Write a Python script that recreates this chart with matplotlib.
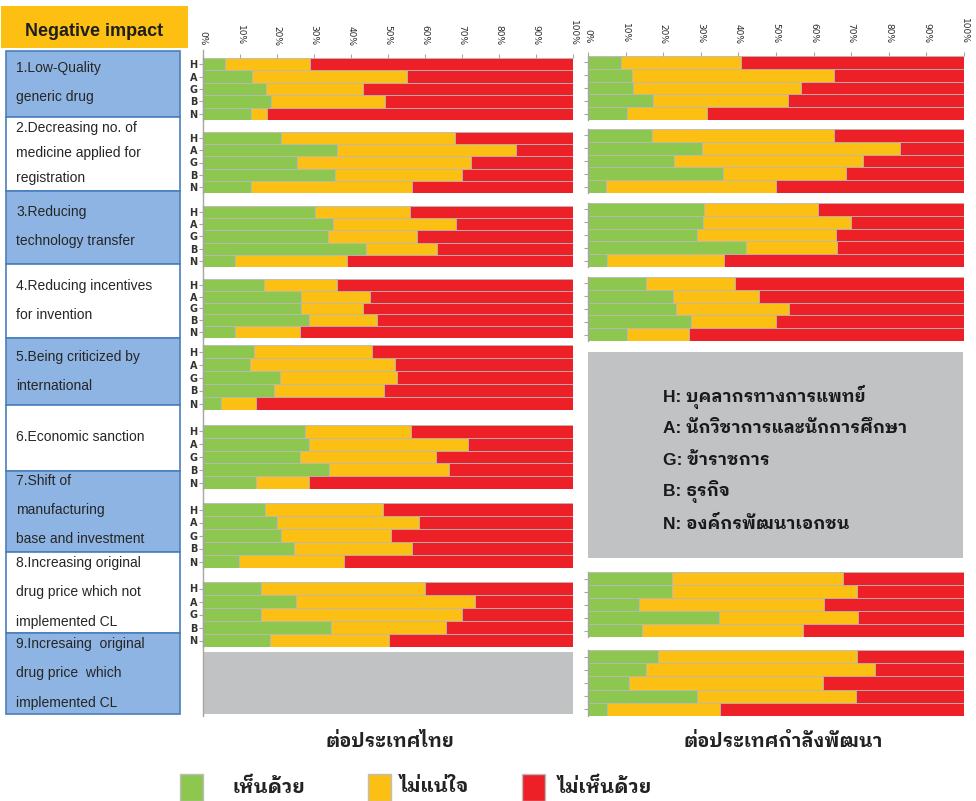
import numpy as np
import matplotlib
matplotlib.use("Agg")
import matplotlib.pyplot as plt
from matplotlib.patches import Rectangle
from matplotlib.lines import Line2D

# ---------------------------------------------------------------- data
groups = ["H", "A", "G", "B", "N"]

impacts = [
    ["1.Low-Quality", "generic drug"],
    ["2.Decreasing no. of", "medicine applied for", "registration"],
    ["3.Reducing", "technology transfer"],
    ["4.Reducing incentives", "for invention"],
    ["5.Being criticized by", "international"],
    ["6.Economic sanction"],
    ["7.Shift of", "manufacturing", "base and investment"],
    ["8.Increasing original", "drug price which not", "implemented CL"],
    ["9.Incresaing  original", "drug price  which", "implemented CL"],
]

# share (%) answering "agree" / "not sure" per group H, A, G, B, N
# impact on Thailand (impacts 1-8)
agree_th = [
    [6.0, 13.2, 17.0, 18.4, 13.1],
    [21.2, 36.2, 25.4, 35.8, 13.1],
    [30.4, 35.0, 33.8, 44.1, 8.7],
    [16.5, 26.6, 26.6, 28.6, 8.7],
    [13.8, 12.6, 20.8, 19.3, 4.8],
    [27.5, 28.6, 26.1, 34.0, 14.4],
    [16.8, 20.1, 21.2, 24.7, 9.7],
    [15.6, 25.1, 15.8, 34.5, 18.2],
]
unsure_th = [
    [22.8, 41.8, 26.3, 30.8, 4.2],
    [47.0, 48.4, 47.0, 34.2, 43.4],
    [25.6, 33.4, 24.0, 19.2, 30.3],
    [19.7, 18.4, 16.7, 18.4, 17.4],
    [31.8, 39.2, 31.6, 29.5, 9.5],
    [28.6, 43.0, 36.9, 32.4, 14.2],
    [31.8, 38.2, 29.5, 31.9, 28.5],
    [44.5, 48.5, 54.3, 31.2, 32.0],
]

# impact on developing countries (impacts 1-4, 8, 9)
dev_impacts = [1, 2, 3, 4, 8, 9]
agree_dev = [
    [8.7, 11.6, 12.1, 17.2, 10.5],
    [17.1, 30.2, 23.0, 36.0, 4.9],
    [30.9, 30.5, 29.0, 42.1, 5.1],
    [15.3, 22.7, 23.5, 27.3, 10.5],
    [22.3, 22.3, 13.6, 34.9, 14.3],
    [18.5, 15.3, 11.0, 28.9, 5.0],
]
unsure_dev = [
    [32.1, 53.8, 44.6, 36.0, 21.1],
    [48.3, 52.8, 50.1, 32.7, 45.2],
    [30.3, 39.4, 36.9, 24.2, 31.0],
    [23.8, 22.8, 30.0, 22.7, 16.3],
    [45.6, 49.2, 49.2, 37.0, 43.0],
    [53.0, 60.9, 51.6, 42.5, 30.0],
]

group_names = [
    "H: บุคลากรทางการแพทย์",
    "A: นักวิชาการและนักการศึกษา",
    "G: ข้าราชการ",
    "B: ธุรกิจ",
    "N: องค์กรพัฒนาเอกชน",
]
answers = ["เห็นด้วย", "ไม่แน่ใจ", "ไม่เห็นด้วย"]
panel_titles = ["ต่อประเทศไทย", "ต่อประเทศกำลังพัฒนา"]
pct_ticks = list(range(0, 101, 10))

# ---------------------------------------------------------------- style
GREEN, YELLOW, RED = "#8DC750", "#FCC015", "#EC2026"
BAR_EDGE = "#B8B8B8"
AXIS_GREY = "#A6A6A6"
BOX_BLUE, BOX_EDGE = "#8EB4E3", "#4A7EBB"
HEADER = "#FDBF12"
PANEL_GREY = "#C1C2C4"
THAI = ["IBM Plex Sans Thai Looped", "Noto Sans Thai Looped", "DejaVu Sans"]
LATIN_THAI = ["Liberation Sans", "IBM Plex Sans Thai Looped",
              "Noto Sans Thai Looped", "DejaVu Sans"]

W, H = 976, 801
fig = plt.figure(figsize=(W / 100, H / 100), dpi=100)


def frac(x0, y0, x1, y1):
    """Pixel box (top-left origin) -> figure fraction rect."""
    return [x0 / W, 1 - y1 / H, (x1 - x0) / W, (y1 - y0) / H]


def fx(x):
    return x / W


def fy(y):
    return 1 - y / H


def stacked(ax, agree, unsure, show_labels, top_ticks):
    agree = np.asarray(agree)
    unsure = np.asarray(unsure)
    disagree = 100 - agree - unsure
    y = np.arange(len(groups))
    kw = dict(height=1.0, edgecolor=BAR_EDGE, linewidth=0.6)
    ax.barh(y, agree, color=GREEN, **kw)
    ax.barh(y, unsure, left=agree, color=YELLOW, **kw)
    ax.barh(y, disagree, left=agree + unsure, color=RED, **kw)
    ax.set_xlim(0, 100)
    ax.set_ylim(len(groups) - 0.5, -0.5)
    for s in ("top", "right", "bottom"):
        ax.spines[s].set_visible(False)
    ax.spines["left"].set_color(AXIS_GREY)
    ax.spines["left"].set_linewidth(1.0)
    ax.set_yticks(y)
    if show_labels:
        ax.set_yticklabels(groups, fontsize=7, fontweight="bold",
                           color="#333333", family="DejaVu Sans")
    else:
        ax.set_yticklabels([])
    ax.tick_params(axis="y", length=3, width=0.8, color=AXIS_GREY, pad=1)
    if top_ticks:
        ax.xaxis.tick_top()
        ax.set_xticks(pct_ticks)
        ax.set_xticklabels([f"{v}%" for v in pct_ticks], rotation=-90,
                           fontsize=6.5, color="#2E2E2E",
                           family="DejaVu Sans", va="bottom", ha="center")
        ax.tick_params(axis="x", length=3, width=0.8, color=AXIS_GREY, pad=6)
    else:
        ax.set_xticks([])


# ---------------------------------------------------------------- left column of impact labels
fig.add_artist(Rectangle((fx(1), fy(48)), fx(187), 42 / H,
                         transform=fig.transFigure, facecolor=HEADER,
                         edgecolor="none"))
fig.text(fx(94), fy(32), "Negative impact", ha="center", va="center",
         fontsize=13, fontweight="bold", color="#1E1E1E",
         family="Liberation Sans")

row_edges = [51, 117, 191, 264, 338, 405, 471, 552, 633, 714]
line_y = [
    [68, 97], [128, 153, 178], [212, 241], [286, 315], [357, 386],
    [437], [481, 510, 539], [563, 592, 622], [644, 673, 703],
]
for i, lines in enumerate(impacts):
    top, bot = row_edges[i], row_edges[i + 1]
    fig.add_artist(Rectangle((fx(6), fy(bot)), fx(174), (bot - top) / H,
                             transform=fig.transFigure,
                             facecolor=BOX_BLUE if i % 2 == 0 else "white",
                             edgecolor=BOX_EDGE, linewidth=1.2))
    for txt, yy in zip(lines, line_y[i]):
        fig.text(fx(16), fy(yy), txt, ha="left", va="center", fontsize=10,
                 color="#262626", family="Liberation Sans")

# ---------------------------------------------------------------- impact on Thailand
th_rows = [(58, 120), (132, 193), (206, 267), (279, 338),
           (345, 410), (425, 489), (503, 568), (582, 647)]
for k, (y0, y1) in enumerate(th_rows):
    ax = fig.add_axes(frac(203, y0, 573, y1))
    stacked(ax, agree_th[k], unsure_th[k], True, k == 0)
fig.add_artist(Line2D([fx(203), fx(203)], [fy(50), fy(716)],
                      transform=fig.transFigure, color=AXIS_GREY, lw=1.0))
# impact 9 was not asked for Thailand
fig.add_artist(Rectangle((fx(204), fy(714)), fx(369), 62 / H,
                         transform=fig.transFigure, facecolor=PANEL_GREY,
                         edgecolor="none"))

# ---------------------------------------------------------------- impact on developing countries
dev_rows = {1: (56, 120), 2: (129, 193), 3: (203, 267), 4: (277, 341),
            8: (572, 637), 9: (650, 716)}
for k, imp in enumerate(dev_impacts):
    y0, y1 = dev_rows[imp]
    ax = fig.add_axes(frac(588, y0, 964, y1))
    stacked(ax, agree_dev[k], unsure_dev[k], False, k == 0)

# group key
fig.add_artist(Rectangle((fx(588), fy(558)), fx(375), 206 / H,
                         transform=fig.transFigure, facecolor=PANEL_GREY,
                         edgecolor="none"))
for name, yy in zip(group_names, [397, 428, 460, 492, 523]):
    fig.text(fx(663), fy(yy), name, ha="left", va="center", fontsize=12.5,
             fontweight="bold", color="#1A1A1A", family=LATIN_THAI)

# ---------------------------------------------------------------- panel titles
fig.text(fx(390), fy(742), panel_titles[0], ha="center", va="center",
         fontsize=13.5, fontweight="bold", color="#222222", family=THAI)
fig.text(fx(783), fy(742), panel_titles[1], ha="center", va="center",
         fontsize=13.5, fontweight="bold", color="#222222", family=THAI)

# ---------------------------------------------------------------- answer legend
for colour, label, sx, tx in zip([GREEN, YELLOW, RED], answers,
                                 [180, 368, 522], [232, 400, 558]):
    fig.add_artist(Rectangle((fx(sx), fy(801)), fx(23), 27 / H,
                             transform=fig.transFigure, facecolor=colour,
                             edgecolor="#BDBDBD", linewidth=1.0))
    fig.text(fx(tx), fy(787), label, ha="left", va="center", fontsize=14,
             fontweight="bold", color="#222222", family=THAI)

fig.savefig("out.png", dpi=100)
